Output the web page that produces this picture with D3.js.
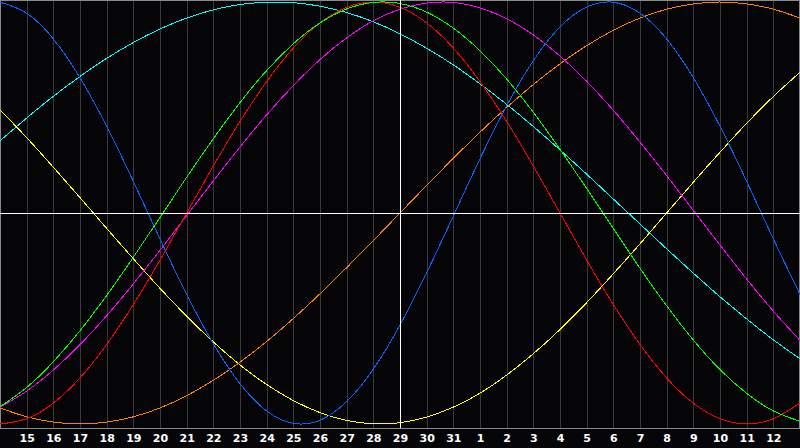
<!DOCTYPE html>
<html>
<head>
<meta charset="utf-8">
<script src="https://cdn.jsdelivr.net/npm/d3@7"></script>
<style>
  html, body { margin: 0; padding: 0; background: #050508; }
  svg { display: block; }
</style>
</head>
<body>
<svg id="chart" width="800" height="448"></svg>
<script>
// Day labels along the bottom (one per grid line)
const dayLabels = [15,16,17,18,19,20,21,22,23,24,25,26,27,28,29,30,31,1,2,3,4,5,6,7,8,9,10,11,12];
// Day index of "today" (centre line)
const todayIndex = 15;

// Cycle values (percent) sampled once per day, index 0..30 across the chart
const blueValues    = [99.9,94.7,82.5,64.1,41.1,15.0,-12.3,-38.6,-62.0,-80.9,-93.8,-99.7,-98.2,-89.4,-74.0,-53.1,-28.3,-1.4,25.7,50.8,72.2,88.2,97.6,99.9,94.7,82.5,64.1,41.1,15.0,-12.3,-38.6];
const redValues     = [-100,-97.5,-90.1,-78.2,-62.3,-43.4,-22.3,0,22.3,43.4,62.3,78.2,90.1,97.5,100,97.5,90.1,78.2,62.3,43.4,22.3,0,-22.3,-43.4,-62.3,-78.2,-90.1,-97.5,-100,-97.5,-90.1];
const greenValues   = [-91.8,-82.7,-70.5,-55.8,-39.1,-21.0,-2.1,16.9,35.2,52.3,67.5,80.2,90.1,96.7,99.8,99.3,95.2,87.6,76.9,63.5,47.7,30.2,11.6,-7.4,-26.2,-44.0,-60.2,-74.2,-85.5,-93.8,-98.7];
const magentaValues = [-92.1,-84.4,-74.4,-62.4,-48.7,-33.6,-17.7,-1.2,15.2,31.3,46.5,60.4,72.7,83.0,91.1,96.6,99.5,99.8,97.2,92.1,84.4,74.4,62.4,48.7,33.6,17.7,1.2,-15.2,-31.3,-46.5,-60.4];
const yellowValues  = [48.9,35.7,21.7,7.3,-7.3,-21.7,-35.7,-48.9,-61.1,-72.0,-81.3,-88.9,-94.6,-98.3,-99.9,-99.4,-96.7,-92.0,-85.4,-76.8,-66.7,-55.2,-42.5,-28.8,-14.6,0,14.6,28.8,42.5,55.2,66.7];
const orangeValues  = [-92.4,-96.6,-99.1,-100,-99.1,-96.6,-92.4,-86.6,-79.3,-70.7,-60.9,-50.0,-38.3,-25.9,-13.1,0,13.1,25.9,38.3,50.0,60.9,70.7,79.3,86.6,92.4,96.6,99.1,100,99.1,96.6,92.4];
const cyanValues    = [34.2,45.0,55.3,64.7,73.3,80.8,87.2,92.4,96.3,98.8,99.9,99.7,98.0,95.0,90.6,84.9,78.1,70.2,61.2,51.5,41.0,29.9,18.4,6.6,-5.2,-17.0,-28.5,-39.7,-50.2,-60.1,-69.1];

const series = [
  { name: "cyan",    color: "#00ffff", values: cyanValues },
  { name: "yellow",  color: "#ffff00", values: yellowValues },
  { name: "orange",  color: "#ff8000", values: orangeValues },
  { name: "magenta", color: "#ff00ff", values: magentaValues },
  { name: "blue",    color: "#0a64ff", values: blueValues },
  { name: "red",     color: "#ff0000", values: redValues },
  { name: "green",   color: "#00ff00", values: greenValues }
];

const W = 800, H = 448, plotBottom = 428;
const svg = d3.select("#chart");

svg.append("rect").attr("x",0).attr("y",0).attr("width",W).attr("height",H).attr("fill","#050508");

const x = d3.scaleLinear().domain([0, 30]).range([0, W]);
const y = d3.scaleLinear().domain([-100, 100]).range([424, 2]);

// vertical grid lines
svg.append("g")
  .selectAll("line")
  .data(dayLabels)
  .join("line")
  .attr("x1", (d,i) => Math.round(x(i+1)) + 0.5)
  .attr("x2", (d,i) => Math.round(x(i+1)) + 0.5)
  .attr("y1", 0)
  .attr("y2", plotBottom)
  .attr("stroke", "#3a3a3a")
  .attr("stroke-width", 1)
  .attr("shape-rendering", "crispEdges");

// border
svg.append("rect")
  .attr("x", 0.5).attr("y", 0.5)
  .attr("width", W - 1).attr("height", plotBottom)
  .attr("fill", "none")
  .attr("stroke", "#8a8a8a")
  .attr("shape-rendering", "crispEdges");

// curves
const line = d3.line()
  .x((d,i) => x(i))
  .y(d => y(d))
  .curve(d3.curveNatural);

svg.append("g")
  .selectAll("path")
  .data(series)
  .join("path")
  .attr("d", s => line(s.values))
  .attr("fill", "none")
  .attr("stroke", s => s.color)
  .attr("stroke-width", 1)
  .attr("shape-rendering", "crispEdges");

// centre cross (today and zero line)
svg.append("line")
  .attr("x1", Math.round(x(todayIndex)) + 0.5).attr("x2", Math.round(x(todayIndex)) + 0.5)
  .attr("y1", 0).attr("y2", plotBottom)
  .attr("stroke", "#ffffff").attr("shape-rendering", "crispEdges");
svg.append("line")
  .attr("x1", 0).attr("x2", W)
  .attr("y1", Math.round(y(0)) + 0.5).attr("y2", Math.round(y(0)) + 0.5)
  .attr("stroke", "#ffffff").attr("shape-rendering", "crispEdges");

// bottom axis labels
const axis = d3.axisBottom(x)
  .tickValues(dayLabels.map((d,i) => i+1))
  .tickFormat((v) => dayLabels[v-1])
  .tickSize(0)
  .tickPadding(6);

const gAxis = svg.append("g")
  .attr("transform", `translate(0,${plotBottom})`)
  .call(axis);
gAxis.select(".domain").remove();
gAxis.selectAll("text")
  .attr("fill", "#ffffff")
  .attr("font-family", "'DejaVu Sans', sans-serif")
  .attr("font-weight", "bold")
  .attr("font-size", "11px");
</script>
</body>
</html>
